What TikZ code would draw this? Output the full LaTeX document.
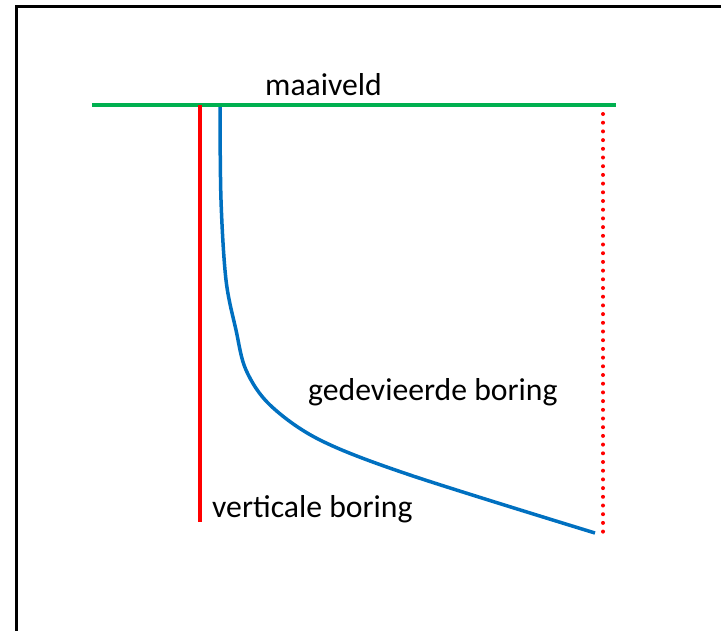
\documentclass[tikz,border=0pt]{standalone}
\usepackage{fontspec}
\setmainfont{Carlito}
\begin{document}
\begin{tikzpicture}[x=1pt,y=-1pt,
  lbl/.style={font=\fontsize{31.7}{36}\selectfont, anchor=base west, inner sep=0pt, text=black}]
\useasboundingbox (0,0) rectangle (721,630);
\draw[line width=3pt] (16,640) -- (16,6) -- (730,6);
\draw[color={rgb,255:red,0;green,176;blue,80}, line width=3.5pt] (92,105) -- (616,105);
\draw[red, line width=3.5pt] (200,105) -- (200,522);
\draw[color={rgb,255:red,0;green,112;blue,192}, line width=3.5pt] plot[smooth, tension=0.55] coordinates {(220,107) (221,200) (226,280) (236,330) (246,370) (270,405) (320,440) (410,475) (595,533)};
\draw[red, line width=4pt, line cap=round, dash pattern=on 0pt off 8.7pt] (603,114) -- (603,535);
\node[lbl] (t1) at (265,95) {maaiveld};
\node[lbl] (t2) at (308,400) {gedevieerde boring};
\node[lbl] (t3) at (212,517) {verticale boring};
\end{tikzpicture}
\end{document}
